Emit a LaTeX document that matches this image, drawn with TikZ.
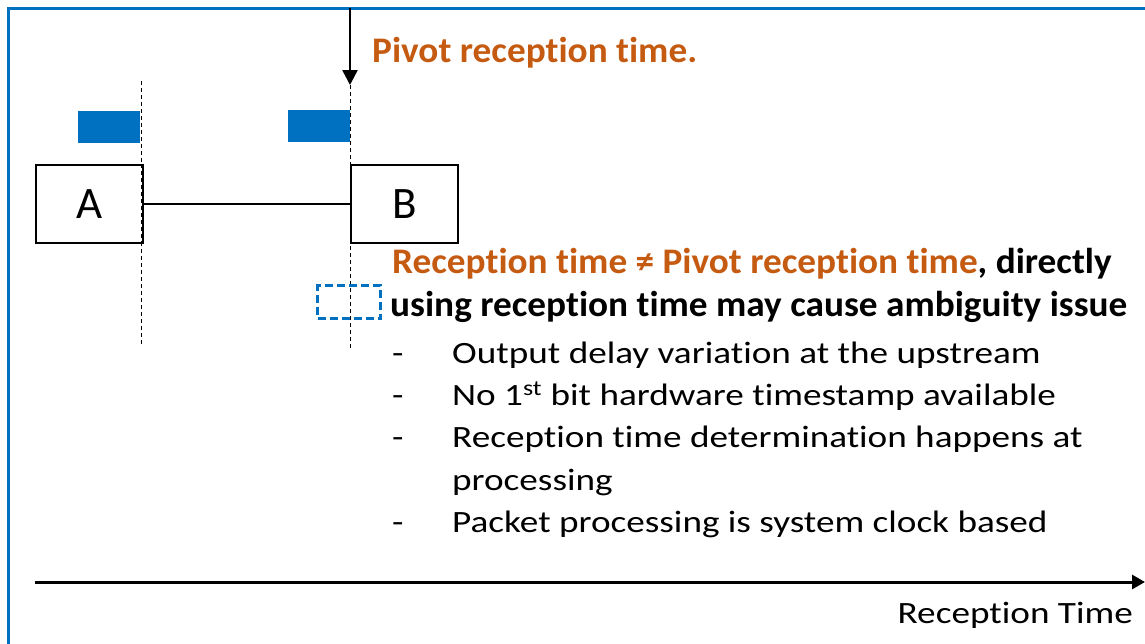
\documentclass[tikz,border=0pt]{standalone}
\usepackage{fontspec}
\setmainfont{Carlito}[RawFeature={-liga;-clig;-calt}, BoldFeatures={FakeStretch=1.035}]
\newfontfamily\widefont{Carlito}[FakeStretch=1.2, RawFeature={-liga;-clig;-calt}]
\usetikzlibrary{arrows.meta}
\definecolor{frameblue}{HTML}{0070C0}
\definecolor{accent}{HTML}{C55A11}
\tikzset{
  device/.style={draw, line width=2pt, minimum width=107pt, minimum height=78pt,
    inner sep=0pt, font=\fontsize{45}{54}\selectfont},
  frame/.style={draw, inner sep=0pt, fill=frameblue},
  timeline/.style={dash pattern=on 4pt off 3pt, line width=1pt},
  headline/.style={anchor=base west, inner sep=0pt, font=\bfseries\fontsize{36}{44}\selectfont},
  bullettext/.style={anchor=base west, inner sep=0pt, font=\widefont\fontsize{31}{38}\selectfont},
}
\begin{document}
\begin{tikzpicture}[x=1pt, y=-1pt]
  \useasboundingbox (0,0) rectangle (1145,643);
  % outer frame (continues past the right and bottom edges)
  \draw[frameblue, line width=3pt] (1160,8) -- (8,8) -- (8,660);

  % timing lines at the egress of A and the ingress of B
  \coordinate (ta) at (141,81);
  \coordinate (tab) at (141,346);
  \coordinate (tb) at (350,85);
  \coordinate (tbb) at (350,348);
  \draw[timeline] (ta) -- (tab);
  \draw[timeline] (tb) -- (tbb);

  % packets
  \node[frame, draw=none, minimum width=62pt, minimum height=32pt, anchor=north east] (pa) at (140,111) {};
  \node[frame, draw=none, minimum width=62pt, minimum height=32pt, anchor=north east] (pb) at (350,110) {};

  % devices
  \node[device, anchor=north west, fill=white] (A) at (35,164) {A};
  \node[device, anchor=north west, fill=white] (B) at (350,164) {B};
  \draw[line width=1.2pt] (A.east) -- (B.west);
  \draw[timeline] (141,164) -- (141,242);
  \draw[timeline] (350,164) -- (350,242);

  % pivot reception time marker
  \coordinate (top) at (350,8);
  \draw[line width=2.5pt, -{Triangle[width=15pt,length=15pt]}] (top) -- (tb);
  \node[headline, text=accent] (pivot) at (372,62) {Pivot reception time.};

  % ambiguous reception slot
  \node[draw=frameblue, dash pattern=on 8pt off 4pt, line width=3pt,
        minimum width=63pt, minimum height=33pt, anchor=north west] (slot) at (316,284) {};

  % explanation
  \node[headline] (l1) at (392,273) {\textcolor{accent}{Reception time ≠ Pivot reception time}, directly};
  \node[headline] (l2) at (390,316) {using reception time may cause ambiguity issue};

  \node[bullettext] (d1) at (392,363) {-};
  \node[bullettext] (b1) at (452,363) {Output delay variation at the upstream};
  \node[bullettext] (d2) at (392,405) {-};
  \node[bullettext] (b2) at (452,405) {No 1\textsuperscript{st} bit hardware timestamp available};
  \node[bullettext] (d3) at (392,447) {-};
  \node[bullettext] (b3) at (452,447) {Reception time determination happens at};
  \node[bullettext] (b3b) at (452,490) {processing};
  \node[bullettext] (d4) at (392,532) {-};
  \node[bullettext] (b4) at (452,532) {Packet processing is system clock based};

  % reception time axis
  \coordinate (ax0) at (35,582);
  \coordinate (ax1) at (1145,582);
  \draw[line width=3pt, -{Triangle[width=14pt,length=13pt]}] (ax0) -- (ax1);
  \node[bullettext, anchor=base east] (axlabel) at (1133,623) {Reception Time};
\end{tikzpicture}
\end{document}
